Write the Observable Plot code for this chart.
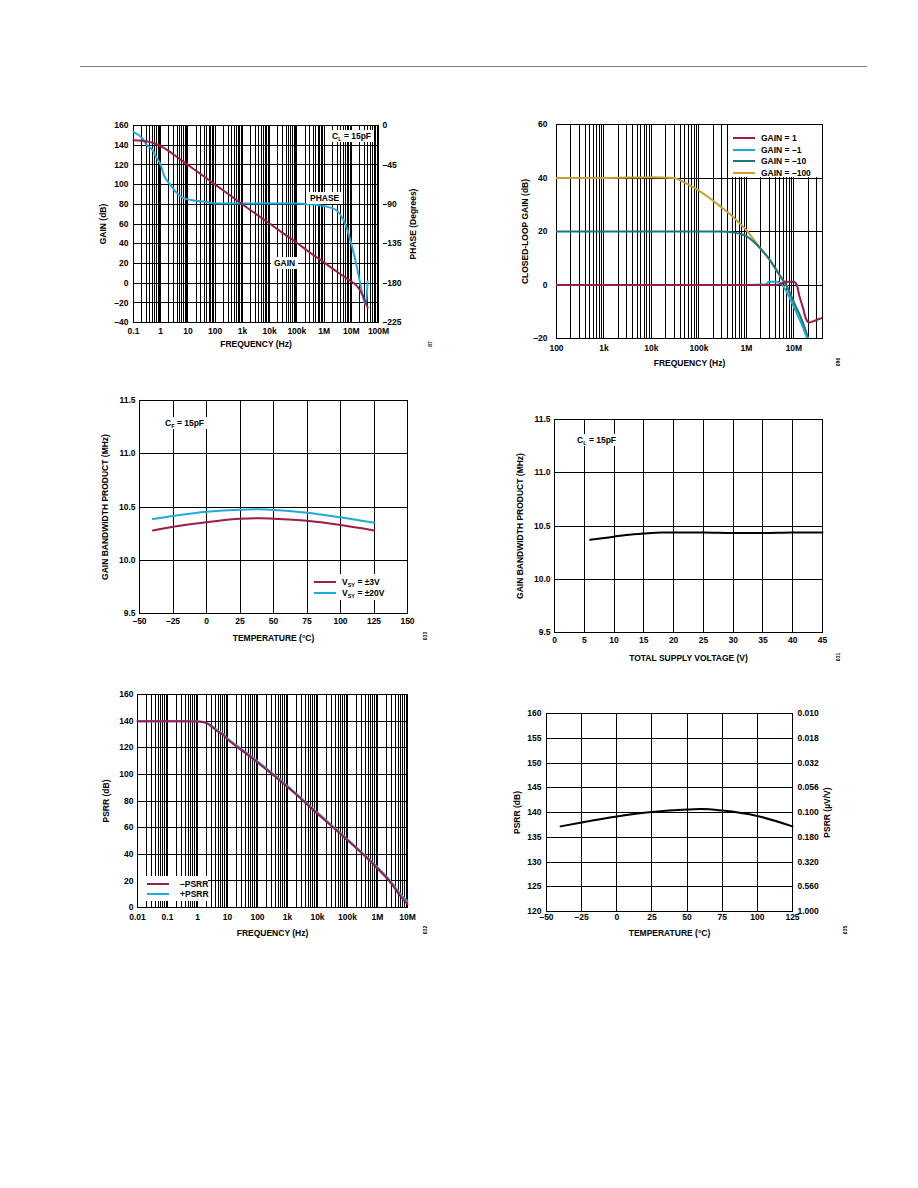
<!DOCTYPE html>
<html>
<head>
<meta charset="utf-8">
<script src="https://cdn.jsdelivr.net/npm/d3@7"></script>
<script src="https://cdn.jsdelivr.net/npm/@observablehq/plot@0.6"></script>
<style>
  html, body { margin: 0; padding: 0; background: #fff; }
  #page { position: relative; width: 918px; height: 1188px; overflow: hidden;
          font-family: "Liberation Sans", Arial, sans-serif; font-weight: bold; font-size: 8.5px; color: #000; }
  .rule { position: absolute; left: 80px; top: 66px; width: 787px; height: 1px; background: #808080; }
  .panel { position: absolute; }
  .note { position: absolute; background: #fff; white-space: nowrap; line-height: 8px; padding: 2px 3px; }
  .legend { position: absolute; background: #fff; }
  .legend .row { position: absolute; left: 0; white-space: nowrap; line-height: 8px; }
  .legend .sw { position: absolute; top: 3px; width: 22px; height: 2px; }
  .legend .tx { position: absolute; top: 0; }
  .fig { position: absolute; transform: translate(-50%, -50%) rotate(-90deg); font-size: 5px; line-height: 5px; white-space: nowrap; }
  sub { font-size: 5.5px; vertical-align: -2px; line-height: 0; }
</style>
</head>
<body>
<div id="page"><div class="rule"></div></div>
<script>
// ---------- Open-loop gain and phase vs frequency ----------
const olFreq = [0.1, 0.2, 0.3, 0.5, 1, 2, 3, 5, 10, 30, 100, 300, 1e3, 3e3, 1e4, 3e4, 1e5, 3e5, 1e6, 3e6, 1e7, 1.5e7, 2e7, 3e7, 4e7];
const olGain = [145, 144.5, 144, 142.5, 139, 134, 130.5, 126, 120, 110.5, 100, 90.5, 80, 70.5, 60.5, 51, 41, 31, 21, 11.5, 1.5, -2, -6.5, -16, -25];
const phFreq = [0.1, 0.2, 0.3, 0.5, 0.67, 1, 1.36, 2, 3, 5, 10, 20, 50, 100, 1e3, 1e4, 1e5, 3e5, 1e6, 2e6, 3e6, 5e6, 7e6, 1e7, 1.5e7, 2e7, 2.5e7, 3e7, 3.3e7, 3.7e7, 4e7];
const phDeg = [-7.5, -14, -22, -28, -35.6, -45, -58, -65.6, -73, -80.6, -84.4, -86, -87.5, -89, -89, -89, -89, -90, -92, -94.5, -97.5, -107, -118, -135, -157.5, -176, -191, -201.7, -204, -195, -178];
const olFreqTicks = [0.1, 1, 10, 100, 1e3, 1e4, 1e5, 1e6, 1e7, 1e8];
const olFreqLabels = ["0.1", "1", "10", "100", "1k", "10k", "100k", "1M", "10M", "100M"];
const olGainTicks = [-40, -20, 0, 20, 40, 60, 80, 100, 120, 140, 160];
const phaseTicks = [0, -45, -90, -135, -180, -225];

// ---------- Closed-loop gain vs frequency ----------
const clFreq1 = [100, 1e3, 1e4, 1e5, 1e6, 3e6, 5e6, 6.5e6, 1e7, 1.15e7, 1.3e7, 1.55e7, 1.8e7, 2.1e7, 2.7e7, 3.3e7, 4e7];
const clGain1 = [0, 0, 0, 0, 0, 0, 0.2, 1.2, 1.2, 0, -4, -8.5, -12.7, -14, -13.4, -12.8, -12.3];
const clFreqM1 = [100, 1e3, 1e4, 1e5, 1e6, 2.5e6, 3e6, 4.5e6, 5.5e6, 7e6, 1e7, 1.4e7, 1.9e7];
const clGainM1 = [0, 0, 0, 0, 0, 0.2, 1.2, 1.2, 0.3, -2.5, -8.3, -14, -20];
const clFreqM10 = [100, 1e3, 1e4, 1e5, 3e5, 5e5, 7e5, 1e6, 1.5e6, 2e6, 3e6, 4e6, 5e6, 7e6, 1e7, 1.5e7, 2e7];
const clGainM10 = [20, 20, 20, 20, 20, 19.7, 19.2, 18.3, 15.8, 13.5, 9.8, 6.5, 3.8, -0.3, -6.5, -13.5, -20];
const clFreqM100 = [100, 1e3, 1e4, 3e4, 5e4, 1e5, 2e5, 3e5, 5e5, 7e5, 1e6, 1.5e6, 2e6, 3e6, 5e6, 7e6, 1e7, 1.5e7, 2e7];
const clGainM100 = [40, 40, 40.3, 40, 38.3, 35.3, 31.5, 29, 25.8, 23.3, 20.5, 16.5, 13.5, 9.6, 3.5, -0.5, -6.7, -13.6, -20.2];
const clFreqTicks = [100, 1e3, 1e4, 1e5, 1e6, 1e7];
const clFreqLabels = ["100", "1k", "10k", "100k", "1M", "10M"];
const clGainTicks = [-20, 0, 20, 40, 60];
const clGainLabels = ["\u201320", "0", "20", "40", "60"];

// ---------- Gain bandwidth product vs temperature ----------
const gbwTemp = [-40, -25, 0, 25, 40, 50, 75, 100, 125];
const gbwSy3 = [10.28, 10.315, 10.356, 10.39, 10.395, 10.39, 10.37, 10.33, 10.28];
const gbwSy20 = [10.387, 10.415, 10.455, 10.475, 10.478, 10.472, 10.447, 10.403, 10.353];
const tempTicks = [-50, -25, 0, 25, 50, 75, 100, 125, 150];
const gbwTicks = [9.5, 10.0, 10.5, 11.0, 11.5];
const gbwLabels = ["9.5", "10.0", "10.5", "11.0", "11.5"];

// ---------- Gain bandwidth product vs total supply voltage ----------
const supplyV = [6, 8, 10, 12, 15, 18, 20, 25, 30, 35, 40, 45];
const gbwVs = [10.37, 10.385, 10.40, 10.415, 10.43, 10.44, 10.44, 10.44, 10.435, 10.435, 10.44, 10.44];
const supplyTicks = [0, 5, 10, 15, 20, 25, 30, 35, 40, 45];

// ---------- PSRR vs frequency ----------
const psrrFreq = [0.01, 0.1, 0.5, 1, 2, 3, 5, 7, 10, 20, 30, 50, 100, 1e3, 1e4, 1e5, 1e6, 3e6, 5e6, 1e7];
const psrrNeg = [140, 140, 140, 139.8, 138.5, 135.8, 131.8, 129.8, 126.3, 121, 118, 114.3, 109, 90.5, 70.5, 50.5, 29.3, 17.5, 10.5, 2.5];
const psrrPos = [140, 140, 140, 140, 138.9, 136.4, 132.5, 130.5, 127, 121.8, 118.8, 115, 109.8, 91.3, 71.3, 51.3, 30.2, 18.7, 12, 4.5];
const psrrFreqTicks = [0.01, 0.1, 1, 10, 100, 1e3, 1e4, 1e5, 1e6, 1e7];
const psrrFreqLabels = ["0.01", "0.1", "1", "10", "100", "1k", "10k", "100k", "1M", "10M"];
const psrrTicks = [0, 20, 40, 60, 80, 100, 120, 140, 160];

// ---------- PSRR vs temperature ----------
const psrrTemp = [-40, -25, 0, 25, 50, 60, 75, 100, 125];
const psrrTempDB = [137.2, 138.0, 139.2, 140.1, 140.6, 140.7, 140.4, 139.3, 137.2];
const psrrTempTicks = [-50, -25, 0, 25, 50, 75, 100, 125];
const psrrDbTicks = [120, 125, 130, 135, 140, 145, 150, 155, 160];
const psrrUvLabels = ["1.000", "0.560", "0.320", "0.180", "0.100", "0.056", "0.032", "0.018", "0.010"];

// ---------- drawing helpers ----------
const MAROON = "#a01a48", CYAN = "#1eaade", TEAL = "#16797a", GOLD = "#c9a033";
const FONT = '"Liberation Sans", Arial, sans-serif';
const FS = 8.5;
const page = document.getElementById("page");
const dash = v => (v < 0 ? "\u2013" + Math.abs(v) : String(v));
const rows = (xs, ys) => xs.map((x, i) => ({x, y: ys[i]}));

// every 1..9 multiple of each decade inside [lo, hi], for log grids
function logGrid(lo, hi) {
  const out = [];
  for (let e = Math.floor(Math.log10(lo)); e <= Math.ceil(Math.log10(hi)); e++) {
    for (let k = 1; k < 10; k++) {
      const v = +(k * Math.pow(10, e)).toPrecision(3);
      if (v >= lo * 0.9999 && v <= hi * 1.0001) out.push(v);
    }
  }
  return out;
}
const grid = {stroke: "#000", strokeWidth: 1, shapeRendering: "crispEdges"};
const tick = {tickSize: 0, label: null, fontSize: FS};
const labeled = (ticks, labels) => { const m = new Map(ticks.map((t, i) => [t, labels[i]])); return d => m.get(d); };
function yTitle(text, off) {
  return Plot.text([text], {text: d => d, frameAnchor: "left", dx: -off, rotate: -90, textAnchor: "middle", lineAnchor: "middle", fontSize: FS, fontWeight: "bold"});
}
function yTitleRight(text, off) {
  return Plot.text([text], {text: d => d, frameAnchor: "right", dx: off, rotate: -90, textAnchor: "middle", lineAnchor: "middle", fontSize: FS, fontWeight: "bold"});
}
function xTitle(text, off) {
  return Plot.text([text], {text: d => d, frameAnchor: "bottom", dy: off, textAnchor: "middle", lineAnchor: "middle", fontSize: FS, fontWeight: "bold"});
}

function addPanel(box, mr, x, y, marks) {
  const ml = 50, mt = 8, mb = 40;
  const w = box.r - box.l + ml + mr, h = box.b - box.t + mt + mb;
  const svg = Plot.plot({
    width: w, height: h, marginLeft: ml, marginRight: mr, marginTop: mt, marginBottom: mb,
    x, y,
    style: {fontFamily: FONT, fontSize: FS + "px", fontWeight: "bold", background: "transparent", overflow: "visible", color: "#000"},
    marks
  });
  const div = document.createElement("div");
  div.className = "panel";
  div.style.left = (box.l - ml) + "px";
  div.style.top = (box.t - mt) + "px";
  div.style.width = w + "px";
  div.appendChild(svg);
  page.appendChild(div);
}
function note(left, top, html) {
  const d = document.createElement("div");
  d.className = "note"; d.style.left = left + "px"; d.style.top = top + "px"; d.innerHTML = html;
  page.appendChild(d);
}
function legend(left, top, width, height, items, sx, tx, y0, step) {
  const d = document.createElement("div");
  d.className = "legend";
  Object.assign(d.style, {left: left + "px", top: top + "px", width: width + "px", height: height + "px"});
  items.forEach(([color, html], i) => {
    const r = document.createElement("div");
    r.className = "row"; r.style.top = (y0 + i * step) + "px";
    r.innerHTML = `<span class="sw" style="left:${sx}px;background:${color}"></span><span class="tx" style="left:${tx}px">${html}</span>`;
    d.appendChild(r);
  });
  page.appendChild(d);
}
function fig(cx, cy, text) {
  const d = document.createElement("div");
  d.className = "fig"; d.style.left = cx + "px"; d.style.top = cy + "px"; d.textContent = text;
  page.appendChild(d);
}

// ---------- 1: open-loop gain / phase ----------
const toGain = p => 160 + p * 200 / 225;
addPanel({l: 133, r: 378, t: 125, b: 322}, 50,
  {type: "log", domain: [0.1, 1e8]},
  {domain: [-40, 160]},
  [
    Plot.ruleX(logGrid(0.1, 1e8), grid),
    Plot.ruleY(olGainTicks, grid),
    Plot.frame({stroke: "#000", shapeRendering: "crispEdges"}),
    Plot.line(rows(phFreq, phDeg.map(toGain)), {x: "x", y: "y", stroke: CYAN, strokeWidth: 2, curve: "monotone-x"}),
    Plot.line(rows(olFreq, olGain), {x: "x", y: "y", stroke: MAROON, strokeWidth: 2, curve: "monotone-x"}),
    Plot.axisX(olFreqTicks, {...tick, tickPadding: 5, tickFormat: labeled(olFreqTicks, olFreqLabels)}),
    Plot.axisY(olGainTicks, {...tick, tickPadding: 5, tickFormat: dash}),
    Plot.axisY(phaseTicks.map(toGain), {...tick, anchor: "right", tickPadding: 4, tickFormat: labeled(phaseTicks.map(toGain), phaseTicks.map(dash))}),
    yTitle("GAIN (dB)", 30),
    yTitleRight("PHASE (Degrees)", 35),
    xTitle("FREQUENCY (Hz)", 22)
  ]);
note(329, 130, "C<sub>L</sub> = 15pF");
note(307, 192, "PHASE");
note(271, 257, "GAIN");
fig(430, 344, "07");

// ---------- 2: closed-loop gain ----------
addPanel({l: 556, r: 822, t: 124, b: 338}, 20,
  {type: "log", domain: [100, 4e7]},
  {domain: [-20, 60]},
  [
    Plot.ruleX(logGrid(100, 4e7), grid),
    Plot.ruleY(clGainTicks, grid),
    Plot.frame({stroke: "#000", shapeRendering: "crispEdges"}),
    Plot.line(rows(clFreqM100, clGainM100), {x: "x", y: "y", stroke: GOLD, strokeWidth: 2, curve: "monotone-x", clip: true}),
    Plot.line(rows(clFreqM10, clGainM10), {x: "x", y: "y", stroke: TEAL, strokeWidth: 2, curve: "monotone-x", clip: true}),
    Plot.line(rows(clFreqM1, clGainM1), {x: "x", y: "y", stroke: CYAN, strokeWidth: 2, curve: "monotone-x", clip: true}),
    Plot.line(rows(clFreq1, clGain1), {x: "x", y: "y", stroke: MAROON, strokeWidth: 2, curve: "monotone-x", clip: true}),
    Plot.axisX(clFreqTicks, {...tick, tickPadding: 6, tickFormat: labeled(clFreqTicks, clFreqLabels)}),
    Plot.axisY(clGainTicks, {...tick, tickPadding: 9, tickFormat: labeled(clGainTicks, clGainLabels)}),
    yTitle("CLOSED-LOOP GAIN (dB)", 31),
    xTitle("FREQUENCY (Hz)", 25)
  ]);
legend(729, 125, 92, 52, [
  [MAROON, "GAIN = 1"], [CYAN, "GAIN = \u20131"], [TEAL, "GAIN = \u201310"], [GOLD, "GAIN = \u2013100"]
], 4, 32, 9, 11.5);
fig(838, 362, "080");

// ---------- 3: GBP vs temperature ----------
addPanel({l: 139, r: 407, t: 400, b: 613}, 20,
  {domain: [-50, 150]},
  {domain: [9.5, 11.5]},
  [
    Plot.ruleX(tempTicks, grid),
    Plot.ruleY(gbwTicks, grid),
    Plot.frame({stroke: "#000", shapeRendering: "crispEdges"}),
    Plot.line(rows(gbwTemp, gbwSy3), {x: "x", y: "y", stroke: MAROON, strokeWidth: 2, curve: "monotone-x"}),
    Plot.line(rows(gbwTemp, gbwSy20), {x: "x", y: "y", stroke: CYAN, strokeWidth: 2, curve: "monotone-x"}),
    Plot.axisX(tempTicks, {...tick, tickPadding: 4, tickFormat: dash}),
    Plot.axisY(gbwTicks, {...tick, tickPadding: 4, tickFormat: labeled(gbwTicks, gbwLabels)}),
    yTitle("GAIN BANDWIDTH PRODUCT (MHz)", 34),
    xTitle("TEMPERATURE (\u00b0C)", 25)
  ]);
note(162, 417, "C<sub>F</sub> = 15pF");
legend(309, 574, 88, 26, [
  [MAROON, "V<sub>SY</sub> = \u00b13V"], [CYAN, "V<sub>SY</sub> = \u00b120V"]
], 5, 33, 4, 11);
fig(425, 636, "033");

// ---------- 4: GBP vs total supply voltage ----------
addPanel({l: 554, r: 822, t: 419, b: 632}, 20,
  {domain: [0, 45]},
  {domain: [9.5, 11.5]},
  [
    Plot.ruleX(supplyTicks, grid),
    Plot.ruleY(gbwTicks, grid),
    Plot.frame({stroke: "#000", shapeRendering: "crispEdges"}),
    Plot.line(rows(supplyV, gbwVs), {x: "x", y: "y", stroke: "#000", strokeWidth: 2, curve: "monotone-x"}),
    Plot.axisX(supplyTicks, {...tick, tickPadding: 4}),
    Plot.axisY(gbwTicks, {...tick, tickPadding: 4, tickFormat: labeled(gbwTicks, gbwLabels)}),
    yTitle("GAIN BANDWIDTH PRODUCT (MHz)", 34),
    xTitle("TOTAL SUPPLY VOLTAGE (V)", 26)
  ]);
note(574, 434, "C<sub>L</sub> = 15pF");
fig(838, 657, "031");

// ---------- 5: PSRR vs frequency ----------
addPanel({l: 137, r: 407, t: 694, b: 907}, 20,
  {type: "log", domain: [0.01, 1e7]},
  {domain: [0, 160]},
  [
    Plot.ruleX(logGrid(0.01, 1e7), grid),
    Plot.ruleY(psrrTicks, grid),
    Plot.frame({stroke: "#000", shapeRendering: "crispEdges"}),
    Plot.line(rows(psrrFreq, psrrPos), {x: "x", y: "y", stroke: CYAN, strokeWidth: 2, curve: "monotone-x"}),
    Plot.line(rows(psrrFreq, psrrNeg), {x: "x", y: "y", stroke: MAROON, strokeWidth: 2, curve: "monotone-x"}),
    Plot.axisX(psrrFreqTicks, {...tick, tickPadding: 6, tickFormat: labeled(psrrFreqTicks, psrrFreqLabels)}),
    Plot.axisY(psrrTicks, {...tick, tickPadding: 4}),
    yTitle("PSRR (dB)", 31),
    xTitle("FREQUENCY (Hz)", 26)
  ]);
legend(138, 876, 70, 25, [
  [MAROON, "\u2013PSRR"], [CYAN, "+PSRR"]
], 9, 42, 4, 10.3);
fig(425, 930, "032");

// ---------- 6: PSRR vs temperature ----------
const dbToUv = labeled(psrrDbTicks, psrrUvLabels);
addPanel({l: 546, r: 792, t: 713, b: 911}, 50,
  {domain: [-50, 125]},
  {domain: [120, 160]},
  [
    Plot.ruleX(psrrTempTicks, grid),
    Plot.ruleY(psrrDbTicks, grid),
    Plot.frame({stroke: "#000", shapeRendering: "crispEdges"}),
    Plot.line(rows(psrrTemp, psrrTempDB), {x: "x", y: "y", stroke: "#000", strokeWidth: 2, curve: "monotone-x"}),
    Plot.axisX(psrrTempTicks, {...tick, tickPadding: 2, tickFormat: dash}),
    Plot.axisY(psrrDbTicks, {...tick, tickPadding: 5}),
    Plot.axisY(psrrDbTicks, {...tick, anchor: "right", tickPadding: 5, tickFormat: dbToUv}),
    yTitle("PSRR (dB)", 29),
    yTitleRight("PSRR (\u00b5V/V)", 35),
    xTitle("TEMPERATURE (\u00b0C)", 22)
  ]);
fig(845, 930, "035");
</script>
</body>
</html>
